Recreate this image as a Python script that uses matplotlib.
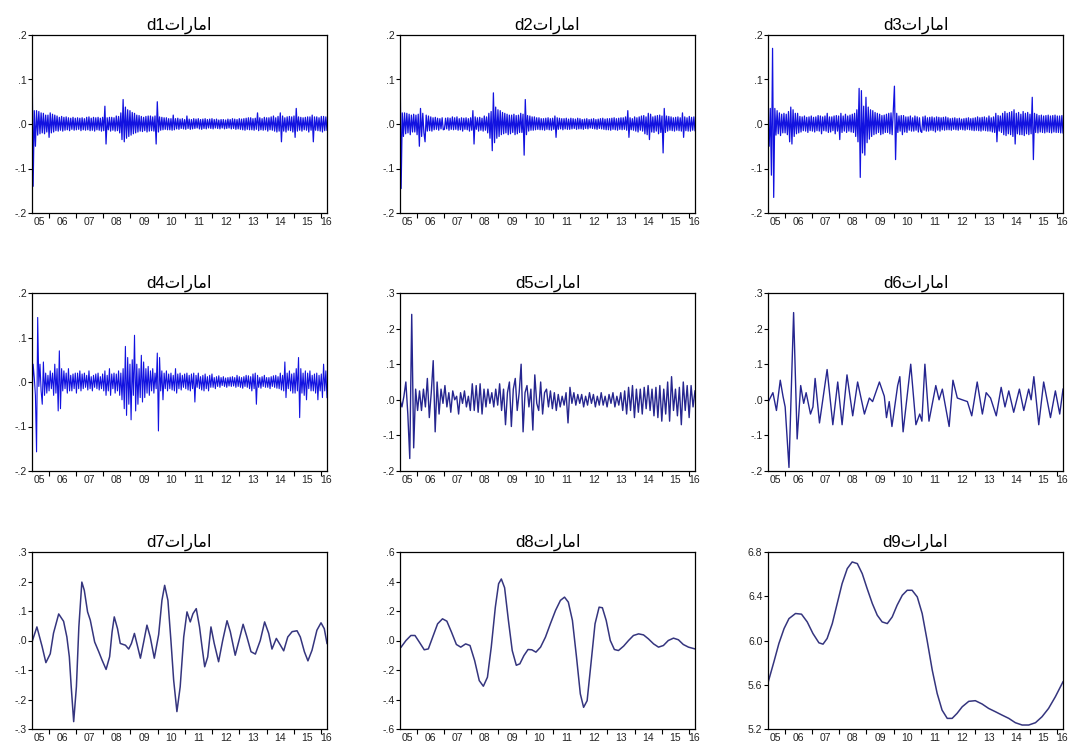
import numpy as np
import matplotlib
matplotlib.use('Agg')
import matplotlib.pyplot as plt
from matplotlib.ticker import FuncFormatter

# ---- data ----
# time axis runs from about May 2005 to March 2016 (decimal years)
start_year = 2005.39
end_year = 2016.22

country = 'امارات'
level_names = ['d1', 'd2', 'd3', 'd4', 'd5', 'd6', 'd7', 'd8', 'd9']

# d1..d4: high frequency details, in thousandths, ~24 values per year
d1_milli = [
    165, -140, 30, -50, 30, -25, 28, -22, 25, -20, 24, -22, 20, -18, 20,
    -30, 25, -20, 22, -18, 20, -15, 18, -16, 15, -14, 17, -16, 15, -14, 16, -13, 14, -15, 13, -12, 15, -14, 13,
    -13, 14, -12, 13, -15, 14, -13, 12, -14, 15, -13, 16, -15, 13, -14, 15, -16, 14, -13, 15, -14, 13, -16, 15,
    -15, 40, -45, 14, -13, 15, -16, 15, -14, 14, -16, 18, -15, 17, -20, 25, -35, 55, -40, 38, -32, 32, -28, 30,
    -25, 26, -22, 24, -20, 20, -18, 19, -16, 17, -17, 15, -15, 17, -18, 18, -16, 18, -15, 16, -16, 18, -45, 50,
    -18, 16, -14, 15, -13, 14, -12, 14, -13, 12, -13, 12, -14, 20, -13, 12, -11, 13, -12, 11, -10, 12, -11, 10,
    -12, 18, -10, 11, -12, 10, -11, 12, -10, 11, -9, 12, -11, 10, -12, 11, -10, 12, -11, 10, -9, 11, -10, 12,
    -11, 10, -9, 11, -10, 9, -11, 10, -9, 10, -11, 9, -10, 11, -9, 10, -11, 12, -10, 11, -12, 10, -11, 12,
    -12, 11, -13, 12, -14, 13, -12, 14, -13, 14, -13, 12, -14, 13, -12, 25, -15, 14, -13, 12, -14, 15, -13, 14,
    -16, 14, -13, 16, -14, 18, -16, 14, -18, 17, -16, 25, -40, 18, -16, 14, -18, 16, -14, 17, -15, 16, -18, 18,
    -30, 35, -16, 16, -14, 15, -16, 14, -13, 15, -14, 16, -18, 16, -14, 20, -40, 16, -14, 16, -15, 14, -16, 17,
    -18, 17, -15, 16, -14,
]
d2_milli = [
    160, -145, 25, -28, 25, -22, 24, -20, 22, -24, 20, -18, 22, -18, 20,
    -24, 22, -50, 35, -28, 24, -20, -40, 20, -16, 18, -15, 16, -16, 14, -13, 15, -12, 13, -14, 12, -11, 14, -13,
    -12, 13, -11, 14, -14, 13, -12, 16, -13, 14, -12, 16, -14, 12, -13, 14, -16, 13, -12, 14, -13, 12, -16, 14,
    -14, 30, -45, 16, -12, 14, -16, 15, -14, 13, -16, 18, -14, 16, -20, 24, -32, 28, -60, 70, -42, 38, -32, 32,
    -28, 30, -24, 26, -22, 24, -20, 22, -24, 20, -22, 20, -19, 22, -24, 19, -22, 20, -19, 24, -19, 22, -70, 55,
    -24, 19, -16, 18, -14, 16, -14, 16, -13, 14, -12, 14, -13, 12, -13, 12, -14, 13, -12, 14, -13, 12, -14, 13,
    -12, 18, -30, 14, -12, 13, -11, 12, -13, 12, -11, 13, -12, 11, -12, 13, -11, 12, -10, 11, -12, 13, -11, 12,
    -11, 10, -12, 11, -10, 12, -11, 10, -9, 11, -10, 12, -11, 10, -12, 11, -10, 12, -11, 13, -12, 11, -13, 12,
    -13, 12, -14, 13, -12, 14, -13, 12, -14, 13, -12, 14, -13, 14, -12, 16, -14, 30, -30, 14, -13, 12, -14, 16,
    -16, 14, -18, 16, -14, 18, -16, 19, -22, 16, -24, 24, -35, 22, -18, 16, -19, 18, -16, 19, -22, 20, -19, 18,
    -65, 35, -19, 18, -16, 17, -14, 16, -15, 14, -16, 15, -14, 16, -15, 14, -16, 25, -30, 16, -15, 14, -16, 17,
    -16, 15, -14, 16, -15,
]
d3_milli = [
    0, -50, 35, -115, 170, -165, 35, -25, 30, -22, 25, -26, 22, -20, 24,
    -20, 22, -24, 28, -40, 38, -45, 32, -28, 24, -22, 24, -20, 17, -18, 16, -15, 18, -16, 15, -19, 16, -15, 18,
    -16, 15, -18, 16, -15, 19, -16, 18, -22, 16, -15, 18, -16, 24, -19, 16, -18, 16, -15, 18, -22, 19, -16, 18,
    -35, 24, -19, 18, -16, 22, -19, 18, -16, 20, -18, 22, -19, 24, -28, 32, -40, 80, -120, 75, -65, 40, -70, 60,
    -42, 38, -34, 32, -28, 30, -24, 26, -22, 24, -19, 22, -24, 19, -22, 20, -19, 22, -19, 24, -22, 25, -24, 28,
    85, -80, 24, -19, 18, -16, 19, -24, 19, -18, 16, -19, 16, -14, 18, -16, 14, -16, 18, -14, 16, -18, 14, -16,
    -19, 16, -14, 18, -16, 14, -16, 15, -14, 16, -15, 14, -18, 16, -14, 15, -16, 14, -13, 15, -14, 16, -13, 14,
    -13, 12, -14, 13, -12, 14, -13, 12, -14, 13, -12, 11, -13, 12, -14, 13, -12, 14, -13, 12, -14, 13, -15, 14,
    -14, 16, -15, 14, -16, 15, -14, 16, -15, 14, -16, 18, -16, 14, -18, 16, -19, 24, -40, 19, -16, 18, -19, 24,
    -24, 28, -26, 24, -22, 26, -24, 28, -28, 32, -45, 24, -22, 26, -24, 22, -24, 28, -26, 24, -22, 26, -24, 22,
    -22, 60, -80, 24, -19, 22, -20, 19, -18, 20, -19, 18, -20, 19, -18, 20, -19, 18, -20, 19, -18, 20, -19, 18,
    -19, 18, -20, 19, -20,
]
d4_milli = [
    -50, 40, 10, -30, -157, 145, -10, 40, -20, -50, 45, -30, 20, -25, 15,
    -20, 25, -15, 20, -30, 40, -25, 30, -65, 70, -60, 30, -20, 25, -15, 20, -25, 30, -20, 15, -20, 18, -15, 20,
    -25, 20, -15, 25, -20, 18, -15, 20, -12, 15, -18, 25, -15, 12, -20, 15, -12, 18, -15, 20, -18, 12, -15, 18,
    -20, 25, -30, 15, -20, 30, -30, 18, -15, 20, -25, 18, -20, 25, -30, 20, -40, 30, -60, 80, -75, 55, -50, 40,
    -85, 50, -30, 105, -65, 40, -50, 30, -35, 60, -45, 45, -35, 30, -25, 35, -30, 25, -20, 30, -25, 20, -15, 65,
    -110, 55, -20, 25, -40, 20, -15, 25, -20, 18, -15, 20, -18, 15, -20, 30, -25, 18, -15, 20, -18, 15, -12, 18,
    -15, 20, -18, 15, -20, 18, -15, 20, -45, 15, -12, 20, -15, 12, -18, 15, -20, 18, -15, 12, -20, 15, -12, 18,
    -12, 10, -15, 12, -10, 14, -12, 10, -8, 12, -10, 9, -12, 10, -9, 11, -10, 12, -9, 10, -12, 15, -10, 12,
    -12, 10, -14, 12, -10, 15, -12, 14, -15, 12, -20, 18, -15, 20, -50, 15, -12, 10, -14, 12, -10, 15, -12, 10,
    -12, 10, -15, 12, -10, 14, -12, 15, -14, 12, -15, 20, -18, 15, -20, 45, -35, 20, -15, 25, -20, 18, -25, 20,
    -25, 30, -20, 55, -80, 30, -25, 20, -30, 25, -40, 20, -15, 25, -20, 15, -20, 18, -25, 20, -40, 15, -20, 18,
    -35, 40, -20, 25, -35,
]

# d5: ~14 values per year
d5_values = [
    0.0, -0.02, 0.01, 0.05, -0.04, -0.165, 0.24, -0.135, 0.03,
    -0.03, 0.025, -0.03, 0.03, -0.02, 0.06, -0.05, 0.02, 0.11, -0.09, 0.05, -0.04, 0.03, -0.01,
    0.04, -0.02, 0.02, -0.035, 0.025, 0.0, 0.01, -0.04, 0.02, -0.01, 0.025, -0.02, 0.01, -0.03,
    0.045, -0.03, 0.04, -0.035, 0.045, -0.04, 0.03, -0.02, 0.03, -0.01, 0.02, -0.02, 0.03, -0.015,
    0.045, -0.03, 0.03, -0.07, 0.02, 0.05, -0.075, 0.03, 0.06, -0.03, 0.02, 0.10, -0.09, 0.02,
    0.04, -0.02, 0.03, -0.085, 0.07, -0.01, -0.03, 0.05, -0.04, 0.02, 0.03, -0.02, 0.025, -0.025,
    0.02, -0.03, 0.015, -0.02, 0.01, -0.015, 0.02, -0.065, 0.035, -0.01, 0.02, -0.015, 0.015, -0.01,
    0.015, -0.02, 0.01, -0.015, 0.02, -0.01, 0.015, -0.02, 0.01, -0.015, 0.02, -0.015, 0.01, -0.02,
    0.015, -0.01, 0.02, -0.02, 0.01, -0.015, 0.02, -0.03, 0.025, -0.04, 0.035, -0.03, 0.04, -0.05,
    0.03, -0.035, 0.03, -0.04, 0.035, -0.025, 0.04, -0.03, 0.03, -0.045, 0.035, -0.05, 0.04, -0.06,
    0.03, -0.04, 0.05, -0.06, 0.065, -0.03, 0.03, -0.045, 0.035, -0.07, 0.05, -0.03, 0.04, -0.05,
    0.04, -0.02, 0.025,
]

# d6..d9: smoother details, read as (year, value) points
d6_years = [2005.41, 2005.57, 2005.70, 2005.84, 2005.94, 2006.02, 2006.16, 2006.33, 2006.46, 2006.59,
            2006.70, 2006.79, 2006.95, 2007.04, 2007.12, 2007.28, 2007.56, 2007.77, 2007.95, 2008.11,
            2008.29, 2008.50, 2008.68, 2008.93, 2009.11, 2009.23, 2009.48, 2009.66, 2009.74, 2009.84,
            2009.94, 2010.15, 2010.23, 2010.35, 2010.63, 2010.82, 2010.96, 2011.04, 2011.15, 2011.30,
            2011.55, 2011.67, 2011.79, 2012.04, 2012.18, 2012.34, 2012.52, 2012.71, 2012.87, 2013.07,
            2013.26, 2013.40, 2013.56, 2013.77, 2013.95, 2014.09, 2014.23, 2014.41, 2014.62, 2014.78,
            2014.96, 2015.05, 2015.15, 2015.33, 2015.51, 2015.76, 2015.94, 2016.10, 2016.22]
d6_values = [-0.004, 0.02, -0.03, 0.055, 0.01, -0.02, -0.19, 0.245, -0.11, 0.04,
             -0.01, 0.02, -0.04, -0.02, 0.06, -0.065, 0.085, -0.07, 0.05, -0.07,
             0.07, -0.045, 0.05, -0.04, 0.005, -0.005, 0.05, 0.01, -0.05, -0.005,
             -0.075, 0.04, 0.065, -0.09, 0.10, -0.07, -0.04, -0.06, 0.10, -0.06,
             0.04, 0.0, 0.03, -0.075, 0.055, 0.005, 0.0, -0.005, -0.045, 0.05,
             -0.04, 0.02, 0.005, -0.045, 0.035, -0.02, 0.025, -0.035, 0.03, -0.03,
             0.03, 0.0, 0.065, -0.07, 0.05, -0.05, 0.025, -0.04, 0.03]

d7_years = [2005.39, 2005.57, 2005.76, 2005.90, 2006.06, 2006.18, 2006.37, 2006.55, 2006.67, 2006.76,
            2006.83, 2006.92, 2007.02, 2007.11, 2007.22, 2007.31, 2007.43, 2007.53, 2007.69, 2007.84,
            2007.96, 2008.11, 2008.24, 2008.33, 2008.41, 2008.53, 2008.63, 2008.82, 2008.94, 2009.04,
            2009.15, 2009.24, 2009.37, 2009.49, 2009.61, 2009.73, 2009.88, 2010.04, 2010.16, 2010.26,
            2010.38, 2010.49, 2010.59, 2010.71, 2010.83, 2010.96, 2011.08, 2011.20, 2011.30, 2011.42,
            2011.54, 2011.63, 2011.73, 2011.84, 2011.96, 2012.08, 2012.24, 2012.39, 2012.55, 2012.67,
            2012.85, 2012.99, 2013.14, 2013.28, 2013.43, 2013.59, 2013.77, 2013.93, 2014.08, 2014.20,
            2014.36, 2014.51, 2014.63, 2014.78, 2014.94, 2015.12, 2015.24, 2015.39, 2015.52, 2015.67,
            2015.85, 2016.00, 2016.12, 2016.22]
d7_values = [-0.005, 0.046, -0.02, -0.075, -0.045, 0.025, 0.09, 0.065, 0.012, -0.055,
             -0.157, -0.275, -0.157, 0.046, 0.198, 0.17, 0.097, 0.069, -0.005, -0.038,
             -0.066, -0.098, -0.055, 0.029, 0.08, 0.04, -0.01, -0.016, -0.029, -0.01,
             0.024, -0.01, -0.06, -0.005, 0.052, 0.012, -0.06, 0.02, 0.136, 0.187,
             0.136, 0.0, -0.134, -0.241, -0.157, 0.012, 0.097, 0.063, 0.091, 0.108,
             0.046, -0.02, -0.089, -0.056, 0.046, -0.01, -0.072, 0.0, 0.067, 0.03,
             -0.05, 0.0, 0.055, 0.012, -0.038, -0.046, 0.0, 0.063, 0.024, -0.029,
             0.007, -0.016, -0.035, 0.012, 0.03, 0.033, 0.012, -0.038, -0.069, -0.033,
             0.035, 0.06, 0.04, -0.01]

d8_years = [2005.43, 2005.61, 2005.79, 2005.94, 2006.10, 2006.28, 2006.43, 2006.59, 2006.77, 2006.95,
            2007.11, 2007.28, 2007.46, 2007.62, 2007.80, 2007.96, 2008.13, 2008.30, 2008.45, 2008.60,
            2008.74, 2008.89, 2009.01, 2009.11, 2009.23, 2009.37, 2009.51, 2009.66, 2009.79, 2009.94,
            2010.09, 2010.23, 2010.38, 2010.55, 2010.73, 2010.91, 2011.10, 2011.28, 2011.43, 2011.57,
            2011.72, 2011.87, 2012.01, 2012.13, 2012.26, 2012.40, 2012.55, 2012.70, 2012.82, 2012.96,
            2013.11, 2013.26, 2013.41, 2013.60, 2013.78, 2013.96, 2014.15, 2014.33, 2014.51, 2014.70,
            2014.88, 2015.06, 2015.24, 2015.43, 2015.61, 2015.79, 2015.98, 2016.22]
d8_values = [-0.045, 0.0, 0.034, 0.034, -0.011, -0.063, -0.057, 0.023, 0.113, 0.147,
             0.131, 0.057, -0.027, -0.045, -0.023, -0.034, -0.136, -0.272, -0.31, -0.249,
             -0.045, 0.226, 0.385, 0.417, 0.358, 0.136, -0.068, -0.168, -0.158, -0.102,
             -0.061, -0.063, -0.079, -0.045, 0.023, 0.113, 0.204, 0.272, 0.294, 0.26,
             0.136, -0.113, -0.362, -0.453, -0.408, -0.158, 0.113, 0.226, 0.222, 0.136,
             0.0, -0.061, -0.068, -0.038, 0.0, 0.034, 0.045, 0.038, 0.011, -0.023,
             -0.045, -0.034, 0.0, 0.016, 0.005, -0.027, -0.045, -0.057]

d9_years = [2005.40, 2005.61, 2005.79, 2005.98, 2006.16, 2006.40, 2006.62, 2006.83, 2007.04, 2007.26,
            2007.41, 2007.56, 2007.75, 2007.93, 2008.11, 2008.30, 2008.48, 2008.67, 2008.85, 2009.03,
            2009.22, 2009.40, 2009.58, 2009.77, 2009.95, 2010.13, 2010.32, 2010.50, 2010.68, 2010.87,
            2011.05, 2011.23, 2011.42, 2011.60, 2011.78, 2011.97, 2012.15, 2012.33, 2012.52, 2012.76,
            2013.00, 2013.25, 2013.49, 2013.74, 2013.98, 2014.23, 2014.47, 2014.72, 2014.96, 2015.21,
            2015.45, 2015.69, 2015.94, 2016.22]
d9_values = [5.627, 5.81, 5.973, 6.108, 6.198, 6.244, 6.238, 6.168, 6.063, 5.979,
             5.967, 6.018, 6.153, 6.334, 6.514, 6.65, 6.71, 6.695, 6.604, 6.469,
             6.334, 6.229, 6.168, 6.153, 6.213, 6.319, 6.409, 6.454, 6.454, 6.394,
             6.244, 6.003, 5.732, 5.522, 5.371, 5.296, 5.296, 5.341, 5.401, 5.45,
             5.456, 5.426, 5.386, 5.356, 5.326, 5.296, 5.257, 5.236, 5.236, 5.257,
             5.311, 5.386, 5.492, 5.627]

year_ticks = list(range(2006, 2017))
year_label_pos = [2005.65] + [y + 0.5 for y in range(2006, 2016)] + [2016.2]
year_labels = ['05', '06', '07', '08', '09', '10', '11', '12', '13', '14', '15', '16']

y_limits = [(-0.2, 0.2)] * 4 + [(-0.2, 0.3)] * 2 + [(-0.3, 0.3), (-0.6, 0.6), (5.2, 6.8)]
y_ticks = [np.arange(-0.2, 0.21, 0.1)] * 4 + [np.arange(-0.2, 0.31, 0.1)] * 2 + \
          [np.arange(-0.3, 0.31, 0.1), np.arange(-0.6, 0.61, 0.2), np.arange(5.2, 6.81, 0.4)]


# matplotlib has no arabic shaping, so pick presentation forms by hand
ARABIC_FORMS = {
    'ا': ('\ufe8d', '\ufe8e', None, None),
    'ر': ('\ufead', '\ufeae', None, None),
    'م': ('\ufee1', '\ufee2', '\ufee3', '\ufee4'),
    'ت': ('\ufe95', '\ufe96', '\ufe97', '\ufe98'),
}


def shape_arabic(word):
    out = []
    for i, ch in enumerate(word):
        iso, fin, ini, med = ARABIC_FORMS[ch]
        prev_joins = i > 0 and ARABIC_FORMS[word[i - 1]][2] is not None
        next_joins = i < len(word) - 1 and ini is not None
        if prev_joins and next_joins:
            out.append(med)
        elif prev_joins:
            out.append(fin)
        elif next_joins:
            out.append(ini)
        else:
            out.append(iso)
    return ''.join(reversed(out))


def short_fmt(v, pos):
    s = f'{v:.1f}'
    if abs(v) < 1:
        s = s.replace('0.', '.', 1)
    return s


series = []
for milli in [d1_milli, d2_milli, d3_milli, d4_milli]:
    vals = np.array(milli) / 1000.0
    series.append((np.linspace(start_year, end_year, len(vals)), vals))
series.append((np.linspace(start_year, end_year, len(d5_values)), np.array(d5_values)))
series.append((np.array(d6_years), np.array(d6_values)))
series.append((np.array(d7_years), np.array(d7_values)))
series.append((np.array(d8_years), np.array(d8_values)))
series.append((np.array(d9_years), np.array(d9_values)))

colors = ['#1212e0'] * 4 + ['#26268f'] * 2 + ['#35357e'] * 3
widths = [0.9] * 3 + [0.8] + [1.0] * 2 + [1.1] * 3

plt.rcParams['font.family'] = ['Liberation Sans', 'DejaVu Sans']

fig = plt.figure(figsize=(10.73, 7.53), dpi=100)
W, H = 1073.0, 753.0
col_px = [(32, 327), (400, 695), (768, 1063)]
row_px = [(35, 213), (293, 471), (552, 729)]

arabic_shaped = shape_arabic(country)

for k in range(9):
    r, c = divmod(k, 3)
    x0, x1 = col_px[c]
    t0, t1 = row_px[r]
    ax = fig.add_axes([x0 / W, 1 - t1 / H, (x1 - x0) / W, (t1 - t0) / H])
    xs, ys = series[k]
    ax.plot(xs, ys, color=colors[k], lw=widths[k])
    ax.set_xlim(start_year, end_year)
    ax.set_ylim(*y_limits[k])
    ax.set_yticks(y_ticks[k])
    ax.yaxis.set_major_formatter(FuncFormatter(short_fmt))
    ax.set_xticks(year_ticks)
    ax.set_xticklabels([])
    ax.set_xticks(year_label_pos, minor=True)
    ax.set_xticklabels(year_labels, minor=True)
    ax.tick_params(axis='x', which='major', direction='out', length=3.5, width=0.8, color='black')
    ax.tick_params(axis='x', which='minor', length=0, pad=3, labelsize=7.5, labelcolor='#222222')
    ax.tick_params(axis='y', direction='out', length=3, width=0.8, pad=1, labelsize=7.5,
                   labelcolor='#222222')
    for sp in ax.spines.values():
        sp.set_linewidth(0.9)
        sp.set_color('black')
    ax.set_title(level_names[k] + arabic_shaped, fontsize=12, pad=4)

fig.savefig('out.png', dpi=100)
